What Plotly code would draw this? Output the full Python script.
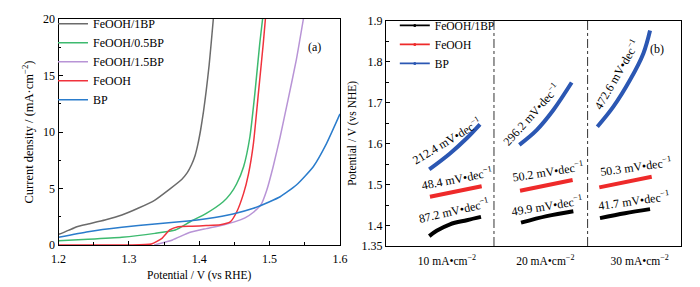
import plotly.graph_objects as go

# ---------------- Panel (a): LSV curves ----------------
fe1bp_x = [1.200, 1.205, 1.214, 1.222, 1.226, 1.242, 1.266, 1.290, 1.313, 1.337, 1.358,
           1.375, 1.383, 1.389, 1.394, 1.398, 1.402, 1.406, 1.410, 1.414, 1.417, 1.420]
fe1bp_y = [0.95, 1.05, 1.30, 1.50, 1.62, 1.86, 2.21, 2.65, 3.25, 3.98, 4.95,
           5.80, 6.40, 7.10, 7.90, 8.90, 10.2, 11.8, 13.7, 15.9, 17.9, 20.0]

fe05bp_x = [1.200, 1.242, 1.290, 1.337, 1.366, 1.387, 1.410, 1.434, 1.444, 1.453,
            1.463, 1.472, 1.479, 1.486, 1.490]
fe05bp_y = [0.38, 0.50, 0.68, 1.03, 1.33, 2.06, 2.80, 3.83, 4.50, 5.40,
            6.93, 9.58, 13.4, 17.85, 20.0]

fe15bp_x = [1.336, 1.362, 1.386, 1.410, 1.434, 1.450, 1.465, 1.477, 1.488, 1.496,
            1.505, 1.515, 1.526, 1.538, 1.548]
fe15bp_y = [0.0, 0.45, 1.10, 1.45, 1.77, 2.05, 2.40, 2.90, 3.60, 4.87,
            6.93, 9.58, 12.8, 16.4, 20.0]

feooh_x = [1.200, 1.300, 1.332, 1.347, 1.358, 1.370, 1.390, 1.410, 1.430, 1.444,
           1.453, 1.463, 1.470, 1.477, 1.484, 1.491, 1.494]
feooh_y = [0.0, 0.0, 0.09, 0.59, 1.33, 1.62, 1.66, 1.72, 1.80, 2.05,
           2.90, 4.57, 6.30, 9.00, 13.4, 17.85, 20.0]

bp_x = [1.200, 1.242, 1.290, 1.337, 1.384, 1.410, 1.448, 1.477, 1.500, 1.515,
        1.538, 1.562, 1.581, 1.600]
bp_y = [0.68, 1.18, 1.57, 1.86, 2.12, 2.33, 2.75, 3.25, 3.83, 4.27,
        5.31, 6.93, 9.00, 11.6]

# ---------------- Panel (b): Tafel segments ----------------
categories = ["10 mA•cm<sup>−2</sup>", "20 mA•cm<sup>−2</sup>", "30 mA•cm<sup>−2</sup>"]
category_pos = [0.62, 1.62, 2.58]
dividers = [1.098, 2.05]

t_1bp_x = [[0.440, 0.515, 0.651, 0.821, 0.966], [1.373, 1.634, 1.905], [2.176, 2.430, 2.685]]
t_1bp_y = [[1.374, 1.387, 1.403, 1.413, 1.421], [1.407, 1.423, 1.435], [1.418, 1.430, 1.440]]

t_fe_x = [[0.447, 0.973], [1.363, 1.898], [2.169, 2.702]]
t_fe_y = [[1.470, 1.496], [1.485, 1.511], [1.493, 1.519]]

t_bp_x = [[0.440, 0.651, 0.821, 0.956], [1.356, 1.532, 1.702, 1.888],
          [2.149, 2.312, 2.481, 2.617, 2.685]]
t_bp_y = [[1.537, 1.576, 1.613, 1.647], [1.597, 1.633, 1.682, 1.749],
          [1.641, 1.690, 1.755, 1.820, 1.876]]

slopes_1bp = ["87.2", "49.9", "41.7"]
slopes_fe = ["48.4", "50.2", "50.3"]
slopes_bp = ["212.4", "296.2", "472.6"]

FONT = "Liberation Serif"

fig = go.Figure()

left_series = [
    ("FeOOH/1BP", fe1bp_x, fe1bp_y, "#6b6b6b"),
    ("FeOOH/0.5BP", fe05bp_x, fe05bp_y, "#3dba6f"),
    ("FeOOH/1.5BP", fe15bp_x, fe15bp_y, "#b894d6"),
    ("FeOOH", feooh_x, feooh_y, "#f0323c"),
    ("BP", bp_x, bp_y, "#2a7ccc"),
]
for name, xs, ys, col in left_series:
    fig.add_trace(go.Scatter(x=xs, y=ys, name=name, mode="lines",
                             line=dict(color=col, width=1.5, shape="spline", smoothing=0.5),
                             xaxis="x", yaxis="y", legend="legend"))

right_series = [
    ("FeOOH/1BP", t_1bp_x, t_1bp_y, "#000000"),
    ("FeOOH", t_fe_x, t_fe_y, "#ee2a2a"),
    ("BP", t_bp_x, t_bp_y, "#2b57b3"),
]
for name, xs_list, ys_list, col in right_series:
    for xs, ys in zip(xs_list, ys_list):
        fig.add_trace(go.Scatter(x=xs, y=ys, name=name, mode="lines",
                                 line=dict(color=col, width=4, shape="spline"),
                                 xaxis="x2", yaxis="y2", showlegend=False))
    # legend key (thin line with small marker, as in the reference key)
    fig.add_trace(go.Scatter(x=[None], y=[None], name=name, mode="lines+markers",
                             line=dict(color=col, width=1.6),
                             marker=dict(color=col, size=3),
                             xaxis="x2", yaxis="y2", legend="legend2"))

axis_common = dict(showline=True, linecolor="black", linewidth=1.3, mirror=True,
                   ticks="inside", ticklen=4, tickcolor="black", showgrid=False,
                   zeroline=False, automargin=False,
                   tickfont=dict(family=FONT, size=12, color="black"))

fig.update_layout(
    template="none",
    width=700, height=287, margin=dict(l=0, r=0, t=0, b=0, autoexpand=False),
    paper_bgcolor="white", plot_bgcolor="white",
    font=dict(family=FONT, size=12, color="black"),
    xaxis=dict(domain=[0.0836, 0.4857], range=[1.2, 1.6], dtick=0.1, tick0=1.2,
               tickformat=".1f", ticklabelstandoff=2,
               minor=dict(dtick=0.05, ticks="inside", ticklen=2.5, tickcolor="black"),
               title=dict(text="Potential / V (vs RHE)", font=dict(family=FONT, size=11.5), standoff=6),
               anchor="y", **axis_common),
    yaxis=dict(domain=[0.1463, 0.9338], range=[0, 20], dtick=5,
               minor=dict(dtick=2.5, ticks="inside", ticklen=2.5, tickcolor="black"),
               title=dict(text="Current density / (mA·cm<sup>−2</sup>)", font=dict(family=FONT, size=12.5), standoff=6),
               anchor="x", **axis_common),
    xaxis2=dict(domain=[0.5514, 0.9729], range=[0, 3], tickvals=category_pos,
                ticktext=categories, anchor="y2", ticklabelstandoff=4,
                showline=True, linecolor="black", linewidth=1.3, mirror=True,
                ticks="", showgrid=False, zeroline=False, automargin=False,
                tickfont=dict(family=FONT, size=11.5, color="black")),
    yaxis2=dict(domain=[0.1429, 0.9279], range=[1.35, 1.9],
                tickvals=[1.35, 1.4, 1.5, 1.6, 1.7, 1.8, 1.9],
                ticktext=["1.35", "1.4", "1.5", "1.6", "1.7", "1.8", "1.9"],
                minor=dict(tickvals=[1.45, 1.55, 1.65, 1.75, 1.85], ticks="inside",
                           ticklen=2.5, tickcolor="black"),
                title=dict(text="Potential / V (vs NHE)", font=dict(family=FONT, size=11.5), standoff=2),
                anchor="x2", **axis_common),
    legend=dict(x=0.0757, y=0.968, xanchor="left", yanchor="top", bgcolor="rgba(0,0,0,0)",
                font=dict(family=FONT, size=12, color="black"), itemwidth=30, tracegroupgap=0),
    legend2=dict(x=0.564, y=0.962, xanchor="left", yanchor="top", bgcolor="rgba(0,0,0,0)",
                 font=dict(family=FONT, size=11.5, color="black"), itemwidth=30, tracegroupgap=0),
)

for xv in dividers:
    fig.add_shape(type="line", xref="x2", yref="y2 domain", x0=xv, x1=xv, y0=0, y1=1,
                  line=dict(color="#333333", width=1, dash="dashdot"))

fig.add_annotation(text="(a)", xref="x domain", yref="y domain", x=0.94, y=0.915,
                   showarrow=False, font=dict(family=FONT, size=12))
fig.add_annotation(text="(b)", xref="x2 domain", yref="y2 domain", x=0.95, y=0.915,
                   showarrow=False, font=dict(family=FONT, size=12))

# slope labels: (x, y, angle)
lab_1bp = [(0.69, 1.436, -13), (1.640, 1.450, -9), (2.52, 1.460, -8)]
lab_fe = [(0.718, 1.515, -11), (1.647, 1.533, -9), (2.54, 1.543, -8)]
lab_bp = [(0.625, 1.607, -31), (1.475, 1.672, -48), (2.346, 1.768, -60)]
for labs, slopes in [(lab_1bp, slopes_1bp), (lab_fe, slopes_fe), (lab_bp, slopes_bp)]:
    for (lx, ly, ang), s in zip(labs, slopes):
        fig.add_annotation(text=f"{s} mV•dec<sup>−1</sup>", xref="x2", yref="y2",
                           x=lx, y=ly, textangle=ang, showarrow=False,
                           font=dict(family=FONT, size=12))

fig.write_html("out.html", config={"displayModeBar": False},
               post_script="document.body.style.margin='0';")
